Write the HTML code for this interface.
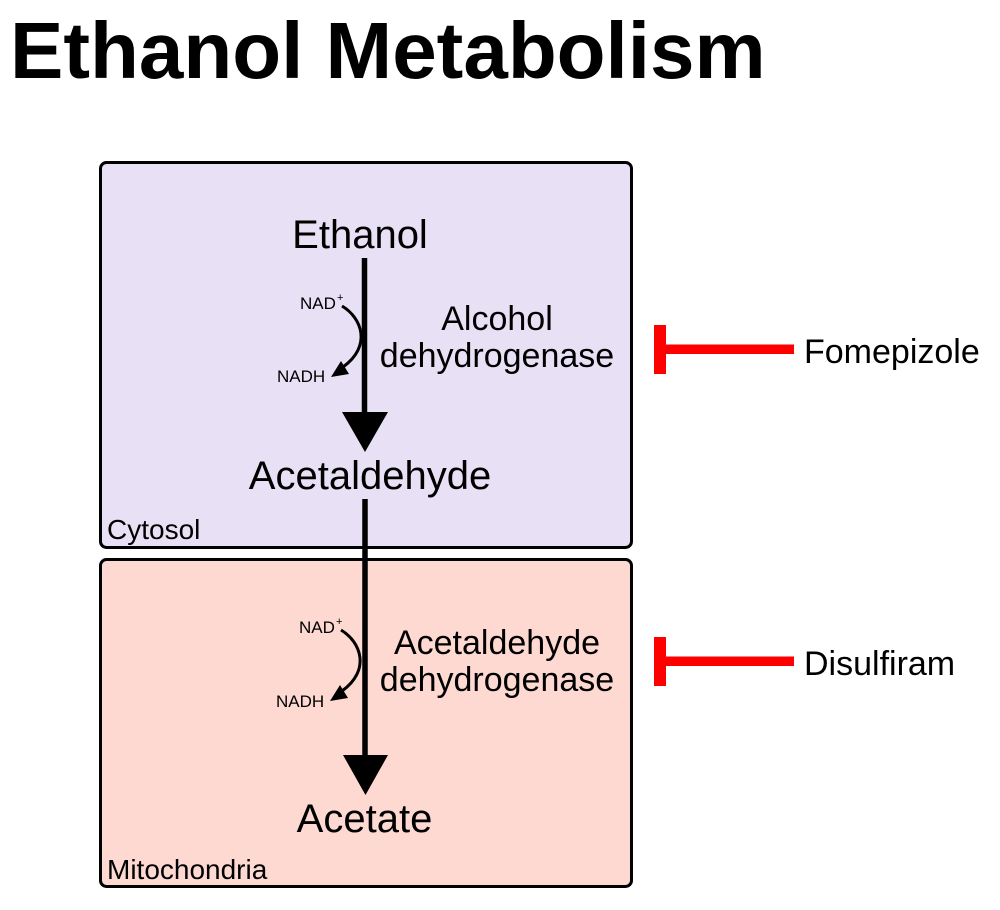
<!DOCTYPE html>
<html>
<head>
<meta charset="utf-8">
<style>
  html, body { margin: 0; padding: 0; background: #ffffff; }
  body { width: 1000px; height: 910px; overflow: hidden; }
  svg { display: block; }
  text { font-family: "Liberation Sans", Arial, Helvetica, sans-serif; fill: #000; }
</style>
</head>
<body>
<svg width="1000" height="910" viewBox="0 0 1000 910" xmlns="http://www.w3.org/2000/svg">
  <!-- Title -->
  <text x="10" y="78" font-size="80" font-weight="bold">Ethanol Metabolism</text>

  <!-- Cytosol box -->
  <rect x="100.5" y="162.5" width="531" height="385" rx="6" ry="6" fill="#e8e0f4" stroke="#000" stroke-width="3"/>
  <!-- Mitochondria box -->
  <rect x="100.5" y="559.5" width="531" height="327" rx="6" ry="6" fill="#fdd9d2" stroke="#000" stroke-width="3"/>

  <!-- Compartment labels -->
  <text x="107" y="539" font-size="28">Cytosol</text>
  <text x="107" y="879" font-size="28">Mitochondria</text>

  <!-- Metabolites -->
  <text x="360" y="248" font-size="40" text-anchor="middle">Ethanol</text>
  <text x="370" y="489" font-size="40" text-anchor="middle">Acetaldehyde</text>
  <text x="364.5" y="832" font-size="40" text-anchor="middle">Acetate</text>

  <!-- Main arrow 1 -->
  <line x1="364.5" y1="258" x2="364.5" y2="416" stroke="#000" stroke-width="5.5"/>
  <polygon points="342,412 388,412 365,452" fill="#000"/>

  <!-- Main arrow 2 -->
  <line x1="365" y1="499" x2="365" y2="758" stroke="#000" stroke-width="5.5"/>
  <polygon points="343,755 388,755 365.5,795" fill="#000"/>

  <!-- Enzyme labels -->
  <text x="497" y="330" font-size="34" text-anchor="middle">Alcohol</text>
  <text x="497" y="367" font-size="34" text-anchor="middle">dehydrogenase</text>
  <text x="497" y="654" font-size="34" text-anchor="middle">Acetaldehyde</text>
  <text x="497" y="691" font-size="34" text-anchor="middle">dehydrogenase</text>

  <!-- Cofactor arrow (cytosol) -->
  <text x="300" y="309" font-size="17">NAD</text>
  <text x="337" y="301" font-size="11">+</text>
  <path d="M 342 306 C 362 318, 372 346, 343 367" fill="none" stroke="#000" stroke-width="3"/>
  <polygon points="331,377 349,374 341,361" fill="#000"/>
  <text x="277" y="382" font-size="17">NADH</text>

  <!-- Cofactor arrow (mitochondria) -->
  <text x="299" y="633" font-size="17">NAD</text>
  <text x="336" y="625" font-size="11">+</text>
  <path d="M 341 630 C 361 642, 371 670, 342 691" fill="none" stroke="#000" stroke-width="3"/>
  <polygon points="330,701 348,698 340,685" fill="#000"/>
  <text x="276" y="707" font-size="17">NADH</text>

  <!-- Inhibitor: Fomepizole -->
  <rect x="654" y="325" width="12" height="49" fill="#ff0000"/>
  <rect x="666" y="344.5" width="128" height="9.5" fill="#ff0000"/>
  <text x="804" y="363" font-size="34">Fomepizole</text>

  <!-- Inhibitor: Disulfiram -->
  <rect x="654" y="637" width="12" height="49" fill="#ff0000"/>
  <rect x="666" y="656.5" width="128" height="9.5" fill="#ff0000"/>
  <text x="804" y="675" font-size="34">Disulfiram</text>
</svg>
</body>
</html>
